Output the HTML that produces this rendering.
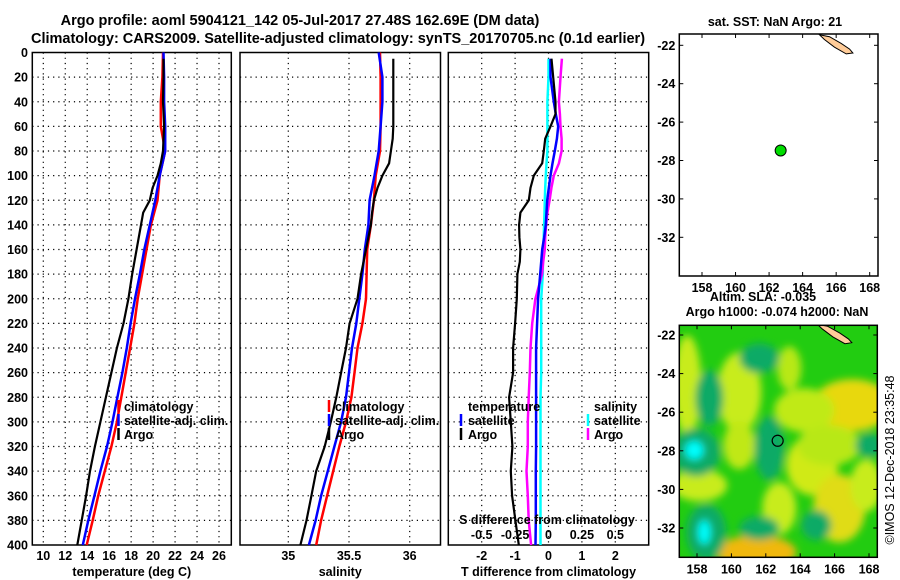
<!DOCTYPE html>
<html><head><meta charset="utf-8">
<style>
html,body{margin:0;padding:0;background:#fff;}
svg{display:block;font-family:"Liberation Sans",sans-serif;font-weight:bold;}
</style></head>
<body>
<svg id="fig" width="900" height="580" viewBox="0 0 900 580" xmlns="http://www.w3.org/2000/svg">
<rect width="900" height="580" fill="#fff"/>
<text x="300" y="25" font-size="14.5" text-anchor="middle">Argo profile: aoml 5904121_142 05-Jul-2017 27.48S 162.69E (DM data)</text>
<text x="338" y="43" font-size="14.5" text-anchor="middle">Climatology: CARS2009. Satellite-adjusted climatology: synTS_20170705.nc (0.1d earlier)</text>
<g id="g"></g>
</svg>
<script>
// ---------- data ----------
var climDepth = [0,20,40,60,80,100,120,140,160,180,200,220,240,260,280,300,320,340,360,380,400];
var tempClim = [20.9,20.85,20.7,20.7,21.1,20.6,20.4,19.8,19.4,19.0,18.6,18.3,17.9,17.5,17.1,16.7,16.2,15.6,15.0,14.5,13.95];
var tempSat  = [20.95,21.0,21.0,21.1,21.1,20.6,20.2,19.7,19.2,18.8,18.35,17.95,17.6,17.2,16.75,16.3,15.8,15.2,14.65,14.1,13.6];
var salClim  = [35.755,35.76,35.76,35.76,35.755,35.72,35.705,35.68,35.65,35.645,35.64,35.61,35.57,35.545,35.52,35.475,35.42,35.37,35.32,35.27,35.23];
var salSat   = [35.745,35.775,35.775,35.76,35.745,35.71,35.67,35.66,35.63,35.61,35.585,35.56,35.525,35.5,35.475,35.435,35.38,35.325,35.27,35.225,35.17];
var argoDepth = [5,20,40,60,70,80,90,100,110,120,130,140,160,180,200,220,240,260,280,300,320,340,360,380,400];
var tempArgo = [20.95,20.95,20.9,21.0,20.95,20.9,20.7,20.4,19.95,19.7,19.1,18.9,18.5,18.1,17.75,17.3,16.7,16.2,15.7,15.2,14.7,14.25,13.9,13.5,13.1];
var salArgo  = [35.865,35.865,35.865,35.865,35.86,35.845,35.83,35.775,35.735,35.705,35.69,35.68,35.64,35.6,35.57,35.505,35.475,35.435,35.395,35.35,35.3,35.23,35.19,35.15,35.10];
var diffDepth = [5,20,40,50,60,70,80,90,100,110,120,130,140,150,160,170,180,200,220,240,260,280,300,320,340,360,380,400];
var dTsat  = [0.06,0.06,0.16,0.22,0.29,0.25,0.19,0.12,0.06,0.01,-0.04,-0.06,-0.08,-0.13,-0.19,-0.22,-0.25,-0.31,-0.34,-0.37,-0.37,-0.37,-0.37,-0.37,-0.38,-0.38,-0.38,-0.39];
var dTargo = [0.09,0.14,0.21,0.21,0.06,-0.1,-0.14,-0.19,-0.44,-0.54,-0.59,-0.84,-0.88,-0.87,-0.84,-0.86,-0.93,-0.95,-1.0,-1.06,-1.06,-1.18,-1.13,-1.08,-1.13,-1.09,-0.99,-0.89];
var dSsat  = [0.0,0.0,-0.008,-0.008,-0.008,-0.008,-0.008,-0.015,-0.02,-0.025,-0.028,-0.03,-0.033,-0.036,-0.04,-0.042,-0.043,-0.055,-0.055,-0.055,-0.055,-0.06,-0.06,-0.06,-0.06,-0.06,-0.06,-0.06];
var dSargo = [0.1,0.09,0.078,0.085,0.09,0.098,0.098,0.078,0.04,0.022,0.008,-0.008,-0.018,-0.025,-0.028,-0.04,-0.048,-0.098,-0.122,-0.135,-0.14,-0.148,-0.155,-0.155,-0.165,-0.155,-0.148,-0.13];
var depthTicks = [0,20,40,60,80,100,120,140,160,180,200,220,240,260,280,300,320,340,360,380,400];
var tempTicks = [10,12,14,16,18,20,22,24,26];
var salTicks = [35,35.5,36];
var salTickLabels = ["35","35.5","36"];
var dTTicks = [-2,-1,0,1,2];
var dSTicks = [-0.5,-0.25,0,0.25,0.5];
var dSTickLabels = ["-0.5","-0.25","0","0.25","0.5"];
var latTicks = [-22,-24,-26,-28,-30,-32];
var lonTicks = [158,160,162,164,166,168];
var floatLon = 162.69, floatLat = -27.48;
var landLon = [165.0,165.6,166.3,166.8,167.0,166.6,165.9,165.3,165.0];
var landLat = [-21.45,-21.55,-21.9,-22.2,-22.4,-22.45,-22.1,-21.7,-21.45];

// ---------- helpers ----------
var NS="http://www.w3.org/2000/svg";
var G=document.getElementById('g');
function mk(tag,attrs,parent){var e=document.createElementNS(NS,tag);for(var k in attrs)e.setAttribute(k,attrs[k]);(parent||G).appendChild(e);return e;}
function txt(s,attrs,parent){var e=mk('text',attrs,parent);e.textContent=s;return e;}
function lin(a0,a1,p0,p1){return function(v){return p0+(v-a0)*(p1-p0)/(a1-a0);};}
var yD = lin(0,400,52.5,545);

function panel(name,x0,x1,xs,ticks,labels,gridT,xtitle){
  var grp=mk('g',{});
  
  
  depthTicks.forEach(function(d){
    if(d>0&&d<400){var l=mk('line',{x1:x0,x2:x1,y1:yD(d),y2:yD(d),stroke:'#000','stroke-width':1.2,'stroke-dasharray':'1.2,4'},grp);
    }
  });
  gridT.forEach(function(t){
    var l=mk('line',{x1:xs(t),x2:xs(t),y1:52.5,y2:545,stroke:'#000','stroke-width':1.2,'stroke-dasharray':'1.2,4'},grp);
    
  });
  var r=mk('rect',{x:x0,y:52.5,width:x1-x0,height:492.5,fill:'none',stroke:'#000','stroke-width':1.5},grp);
  
  ticks.forEach(function(t,i){
    var e=txt(labels[i],{x:xs(t),y:560,'font-size':12.5,'text-anchor':'middle'},grp);
    
  });
  var e=txt(xtitle,{x:(x0+x1)/2,y:576,'font-size':12.5,'text-anchor':'middle'},grp);
  
  return grp;
}
function path(xs,vals,depths,color,w,name,parent){
  var d='';
  for(var i=0;i<vals.length;i++){d+=(i?'L':'M')+xs(vals[i]).toFixed(1)+','+yD(depths[i]).toFixed(1);}
  var p=mk('path',{d:d,fill:'none',stroke:color,'stroke-width':w,'stroke-linejoin':'round'},parent);
  
  
  return p;
}
function legend(items,xm,xt,y0,parent){
  items.forEach(function(it,i){
    var y=y0+i*14;
    var m=mk('line',{x1:xm,x2:xm,y1:y-11,y2:y+1,stroke:it[1],'stroke-width':2.5},parent);
    
    var t=txt(it[0],{x:xt,y:y,'font-size':12.5},parent);
    
  });
}

depthTicks.forEach(function(d){
  var e=txt(String(d),{x:28,y:yD(d)+4.5,'font-size':12.5,'text-anchor':'end'});
  
  
});

var xT=lin(10,26,43.3,219);
var p1=panel('temperature-panel',32.3,231.3,xT,tempTicks,tempTicks.map(String),tempTicks,'temperature (deg C)');
path(xT,tempClim,climDepth,'#f00',2.5,'temp-climatology-line',p1);
path(xT,tempSat,climDepth,'#00f',2.5,'temp-satellite-line',p1);
path(xT,tempArgo,argoDepth,'#000',2.2,'temp-argo-line',p1);
legend([['climatology','#f00'],['satellite-adj. clim.','#00f'],['Argo','#000']],118.5,124,411,p1);

var xS=lin(35,36,288.3,409.7);
var p2=panel('salinity-panel',240,440.5,xS,salTicks,salTickLabels,salTicks,'salinity');
path(xS,salClim,climDepth,'#f00',2.5,'sal-climatology-line',p2);
path(xS,salSat,climDepth,'#00f',2.5,'sal-satellite-line',p2);
path(xS,salArgo,argoDepth,'#000',2.2,'sal-argo-line',p2);
legend([['climatology','#f00'],['satellite-adj. clim.','#00f'],['Argo','#000']],329,335,411,p2);

var xdT=lin(-3,3,448.3,648.7);
var xdS=lin(-0.75,0.75,448.3,648.7);
var p3=panel('difference-panel',448.3,648.7,xdT,dTTicks,dTTicks.map(String),dTTicks,'T difference from climatology');
path(xdS,dSsat,diffDepth,'#0ff',2.5,'sal-diff-satellite-line',p3);
path(xdS,dSargo,diffDepth,'#f0f',2.5,'sal-diff-argo-line',p3);
path(xdT,dTsat,diffDepth,'#00f',2.5,'temp-diff-satellite-line',p3);
path(xdT,dTargo,diffDepth,'#000',2.2,'temp-diff-argo-line',p3);
var lt=txt('temperature',{x:468,y:411,'font-size':12.5},p3);
legend([['satellite','#00f'],['Argo','#000']],461,468,425,p3);
var ls=txt('salinity',{x:594,y:411,'font-size':12.5},p3);
legend([['satellite','#0ff'],['Argo','#f0f']],588,594,425,p3);
var st=txt('S difference from climatology',{x:547,y:524,'font-size':12.5,'text-anchor':'middle'},p3);

dSTicks.forEach(function(t,i){
  var e=txt(dSTickLabels[i],{x:xdS(t),y:539,'font-size':12.5,'text-anchor':'middle'},p3);
  
});

// ---------- maps ----------
function mapFrame(name){
  var grp=mk('g',{});
  
  
  return grp;
}
function mapAxes(grp,x0,x1,y0,y1,lonS,latS){
  var r=mk('rect',{x:x0,y:y0,width:x1-x0,height:y1-y0,fill:'none',stroke:'#000','stroke-width':1.5},grp);
  
  latTicks.forEach(function(t){
    var y=latS(t);
    mk('line',{x1:x0,x2:x0+4,y1:y,y2:y,stroke:'#000'},grp);
    mk('line',{x1:x1,x2:x1-4,y1:y,y2:y,stroke:'#000'},grp);
    var e=txt(String(t),{x:x0-4,y:y+4.5,'font-size':12.5,'text-anchor':'end'},grp);
    
  });
  lonTicks.forEach(function(t){
    var x=lonS(t);
    mk('line',{x1:x,x2:x,y1:y0,y2:y0+4,stroke:'#000'},grp);
    mk('line',{x1:x,x2:x,y1:y1,y2:y1-4,stroke:'#000'},grp);
    var e=txt(String(t),{x:x,y:y1+16,'font-size':12.5,'text-anchor':'middle'},grp);
    
  });
}
function land(grp,lonS,latS){
  var pts=landLon.map(function(l,i){return lonS(l).toFixed(1)+','+latS(landLat[i]).toFixed(1);}).join(' ');
  var p=mk('polygon',{points:pts,fill:'#fc9',stroke:'#000','stroke-width':1},grp);
  
}

var m1lon=lin(158,168,702,869.7), m1lat=lin(-22,-32,45.3,237.3);
var g1=mapFrame('sst-map');
var clip1=mk('clipPath',{id:'c1'},g1);mk('rect',{x:679.3,y:34,width:198.7,height:242},clip1);
var l1=mk('g',{'clip-path':'url(#c1)'},g1);
land(l1,m1lon,m1lat);
var dot=mk('circle',{cx:m1lon(floatLon),cy:m1lat(floatLat),r:5.5,fill:'#0d0',stroke:'#000','stroke-width':1},g1);

mapAxes(g1,679.3,878,34,276,m1lon,m1lat);
var t1=txt('sat. SST: NaN Argo: 21',{x:775,y:26,'font-size':12.5,'text-anchor':'middle'},g1);


var m2lon=lin(158,168,697,869), m2lat=lin(-22,-32,335,528);
var g2=mapFrame('sla-map');
var defs=mk('defs',{},g2);
var f=mk('filter',{id:'bl',x:'-20%',y:'-20%',width:'140%',height:'140%'},defs);
mk('feGaussianBlur',{stdDeviation:4},f);
var clip2=mk('clipPath',{id:'c2'},defs);mk('rect',{x:679.3,y:325.3,width:198,height:232},clip2);
var field=mk('g',{'clip-path':'url(#c2)'},g2);


mk('rect',{x:679.3,y:325.3,width:198,height:232,fill:'#22cc11'},field);
var fb=mk('g',{filter:'url(#bl)'},field);
var slaBlobs=[
 [60,67,22,40,'#c8ec1a'],[8,60,14,50,'#c8ec1a'],[173,80,40,26,'#e8d810'],[110,43,12,22,'#b8e818'],
 [125,85,30,22,'#c0ea18'],
 [133,140,26,30,'#d0ea18'],[160,183,26,34,'#e0dc14'],[77,227,40,17,'#f0b808'],[20,160,28,16,'#c8ec1a'],
 [100,183,17,26,'#c8ec1a'],[187,160,16,26,'#c8ec1a'],[150,120,32,20,'#b8e818'],[60,120,16,24,'#c0e818'],
 [80,33,20,15,'#10aa66'],[30,73,14,28,'#10aa66'],[90,123,15,32,'#10aa66'],[17,127,24,24,'#10aa66'],
 [27,207,20,28,'#10aa66'],[137,200,15,15,'#10aa66'],[80,203,20,12,'#10aa66'],[190,120,14,12,'#10aa66'],
 [15,125,9,9,'#00ffff'],[25,207,6,12,'#00ffff']
];
slaBlobs.forEach(function(b){
  var e=mk('ellipse',{cx:679.3+b[0],cy:325.3+b[1],rx:b[2],ry:b[3],fill:b[4]},fb);
  
  
});
var l2=mk('g',{'clip-path':'url(#c2)'},g2);
land(l2,m2lon,m2lat);
var oc=mk('circle',{cx:m2lon(floatLon),cy:m2lat(floatLat),r:5.5,fill:'none',stroke:'#000','stroke-width':1.2},g2);

mapAxes(g2,679.3,877.3,325.3,557.3,m2lon,m2lat);
var t2=txt('Altim. SLA: -0.035',{x:763,y:301,'font-size':12.5,'text-anchor':'middle'},g2);

var t3=txt('Argo h1000: -0.074 h2000: NaN',{x:777,y:316,'font-size':12.5,'text-anchor':'middle'},g2);

var cp=txt('\u00a9IMOS 12-Dec-2018 23:35:48',{x:0,y:0,'font-size':12.5,'font-weight':'normal','text-anchor':'middle',transform:'translate(894,460) rotate(-90)'});

</script>
</body></html>
